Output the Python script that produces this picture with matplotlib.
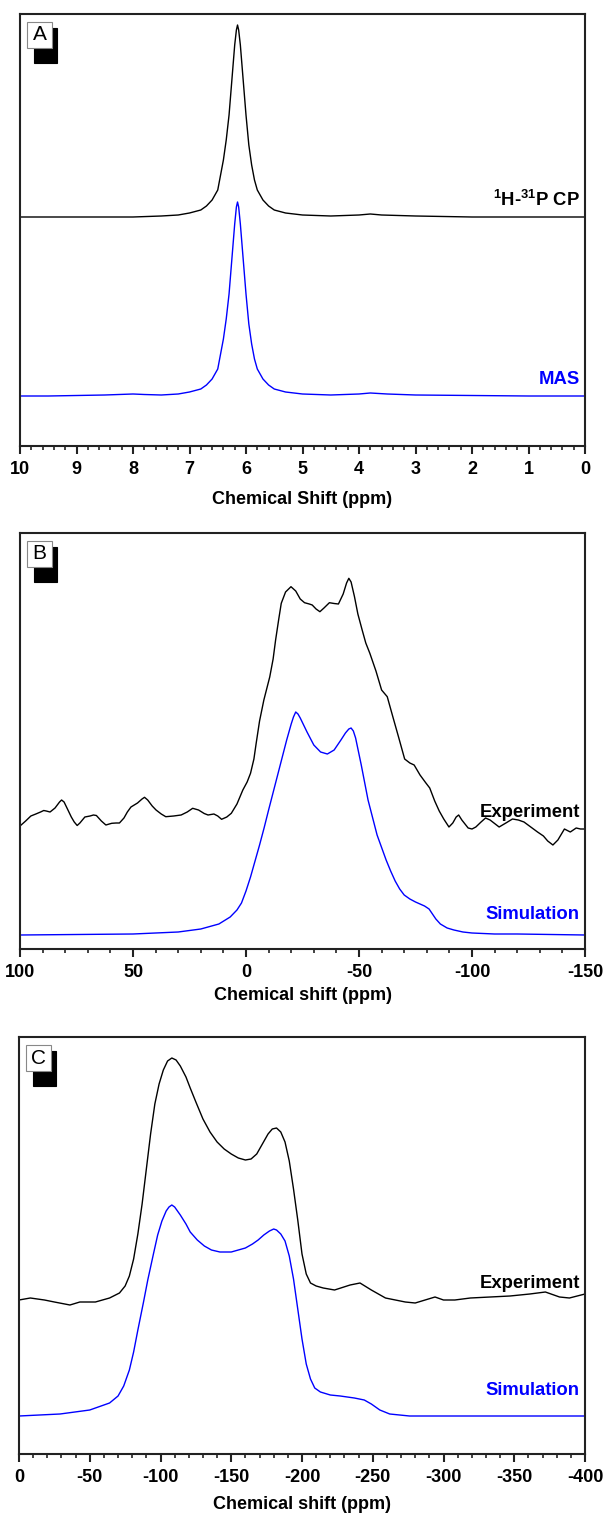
import matplotlib
matplotlib.use('Agg')
import matplotlib.pyplot as plt
from matplotlib.patches import Rectangle
from matplotlib.ticker import MultipleLocator

plt.rcParams['font.family'] = ['Liberation Sans', 'DejaVu Sans']
plt.rcParams['mathtext.fontset'] = 'custom'
plt.rcParams['mathtext.rm'] = 'Liberation Sans'
plt.rcParams['mathtext.bf'] = 'Liberation Sans:bold'
plt.rcParams['mathtext.default'] = 'bf'
plt.rcParams['axes.unicode_minus'] = False

# panel A: 1H-31P CP and MAS (ppm, intensity)
a_cp_ppm = [10, 8, 7.5, 7.2, 7.0, 6.8, 6.7, 6.6, 6.5, 6.45, 6.4, 6.35, 6.3, 6.25, 6.2, 6.17,
            6.15, 6.13, 6.1, 6.05, 6.0, 5.95, 5.9, 5.85, 5.8, 5.7, 5.6, 5.5, 5.3, 5.0, 4.5,
            4.0, 3.8, 3.6, 3.0, 2.0, 0]
a_cp_int = [229, 229, 230, 231, 233, 236, 240, 246, 256, 271, 286, 306, 331, 366, 401, 416,
            421, 416, 401, 366, 331, 301, 281, 266, 256, 246, 240, 236, 233, 231, 230,
            231, 232, 231, 230, 229, 229]
a_mas_ppm = [10, 9.5, 9.0, 8.5, 8.0, 7.8, 7.5, 7.2, 7.0, 6.8, 6.7, 6.6, 6.5, 6.45, 6.4, 6.35,
             6.3, 6.25, 6.2, 6.17, 6.15, 6.13, 6.1, 6.05, 6.0, 5.95, 5.9, 5.85, 5.8, 5.7,
             5.6, 5.5, 5.3, 5.0, 4.5, 4.0, 3.8, 3.5, 3.0, 2.0, 1.0, 0]
a_mas_int = [50, 50, 50.5, 51, 52, 51.5, 51, 52, 54, 57, 61, 67, 77, 92, 107, 127,
             152, 187, 222, 239, 244, 239, 222, 187, 152, 122, 102, 87, 77, 67,
             61, 57, 54, 52, 51, 52, 53, 52, 51, 50.5, 50, 50]

# panel B: experiment and simulation
b_exp_ppm = [100, 97.5, 95.2, 93, 90.9, 89.5, 88.4, 86.7, 84.5, 82.5, 81.6, 80.5, 79, 77.3,
             76, 74.7, 73.5, 71.3, 69, 67.5, 66.2, 64, 62, 60.5, 59.4, 57.5, 56, 54, 52.5,
             50.9, 48, 46, 44.9, 43.5, 41.5, 39.8, 37.5, 35.5, 32, 28.7, 26, 23.6, 21, 18.5,
             16.8, 14.2, 12.5, 10.8, 8.5, 6.5, 4, 1.4, -0.5, -2, -3.5, -4.5, -6, -7.9,
             -10.5, -12, -13.1, -14.5, -15.6, -17.5, -19.9, -22, -24, -25.9, -28, -29.3,
             -31, -32.7, -34.5, -36.9, -39, -40.9, -43, -44.5, -45.5, -46.5, -48, -49.5,
             -51.4, -53, -54.8, -57.5, -60, -62.5, -65, -67.5, -70.2, -72.5, -74.4, -77,
             -79.6, -81.3, -83.5, -85.5, -87.5, -89.8, -91.5, -93, -94.1, -95.5, -98.3,
             -100, -101.7, -104, -106, -108, -112, -115, -117.9, -120.5, -123, -126, -129,
             -131.6, -133.5, -135.8, -138, -140.9, -143.5, -146.1, -148, -150]
b_exp_int = [123, 128, 133, 135, 137, 138.5, 138, 137, 141, 147, 149, 147, 140, 132,
             127, 123.5, 126, 132, 133, 134, 133.5, 128, 124, 125, 125.7, 126, 126, 131, 137,
             142, 146, 150, 151.7, 149, 143, 139, 135, 132.3, 133, 134, 137, 140.7, 139, 135.5,
             134, 135, 133, 129.7, 132, 135.7, 145, 159, 167, 175.7, 190, 205.7, 228, 249,
             272, 290, 309, 330, 345.7, 357, 362.3, 358, 350, 346.3, 345, 344,
             340, 337.3, 341, 346.3, 345.5, 345, 355, 366, 370.7, 367, 352.3, 335,
             319, 306, 295.7, 278, 259, 252.3, 232, 212, 190, 186, 184, 174,
             166, 161, 148, 138, 130, 122, 126, 132, 134, 129, 121,
             120, 122, 127, 131, 129, 122, 126, 130, 129, 127, 122, 117,
             113, 108, 104, 109, 120, 117, 121, 120, 120]
b_sim_ppm = [100, 50, 30, 20, 12, 7, 4, 2, 0, -2, -4, -6, -8, -10, -14, -18, -20, -21, -22,
             -23, -24, -27, -30, -33, -36, -39, -42, -44, -45.5, -46.5, -47.5, -48.5, -51,
             -54, -58, -62, -64, -66, -68, -70, -72.5, -75, -79, -81, -82.5, -84, -86, -89,
             -92, -96, -100, -110, -120, -150]
b_sim_int = [14, 15, 17, 20, 25, 32, 39, 46, 58, 72, 88, 104, 121, 139, 174, 209, 225, 232,
             237, 235, 231, 217, 204, 197, 195, 199, 209, 216, 220, 221, 218, 211, 184,
             149, 114, 89, 78, 68, 60, 54, 50, 47, 43, 40, 35, 30, 25, 21,
             19, 17, 16, 15, 15, 14]

# panel C: experiment and simulation
c_exp_ppm = [0, -8, -18, -25, -36, -43, -54, -64, -71, -75, -78, -81, -84, -87, -90, -93,
             -96, -99, -102, -105, -108, -111, -114, -118, -121, -125, -130, -135, -140,
             -145, -150, -155, -160, -164, -168, -172, -176, -179, -182, -185, -188, -191,
             -194, -197, -200, -203, -206, -210, -215, -223, -234, -241, -249, -259, -266,
             -273, -280, -287, -294, -300, -308, -319, -333, -347, -361, -372, -382, -389,
             -400]
c_exp_int = [154, 156, 154, 152, 149, 152, 152, 156, 161, 168, 178, 195, 220, 250, 285, 320,
             350, 370, 384, 393, 396, 394, 388, 377, 366, 352, 335, 322, 312,
             305, 300, 296, 294, 295, 300, 310, 320, 325, 326, 322, 312, 293,
             265, 234, 200, 180, 171, 168, 166, 164, 169, 171, 164, 156, 154,
             152, 151, 154, 157, 154, 154, 156, 157, 158, 160, 162, 157, 156,
             160]
c_sim_ppm = [0, -29, -50, -64, -70, -74, -78, -81, -84, -88, -91, -95, -98, -101, -104, -106,
             -108, -110, -114, -118, -121, -126, -131, -136, -142, -150, -155, -160, -165,
             -169, -173, -177, -180, -182, -185, -188, -191, -194, -197, -200, -203, -206,
             -209, -213, -220, -227, -237, -244, -249, -255, -262, -276, -400]
c_sim_int = [38, 40, 44, 51, 58, 68, 84, 102, 124, 152, 174, 200, 219, 233, 243, 247,
             249, 247, 239, 230, 222, 214, 208, 204, 202, 202, 204, 206, 210,
             214, 219, 223, 225, 224, 220, 213, 198, 175, 145, 115, 90, 75,
             66, 62, 59, 58, 56, 54, 50, 44, 40, 38, 38]

BLUE = '#0000ff'
SPINE = '#222222'

fig = plt.figure(figsize=(6.06, 15.19), dpi=100)
W, H = 606, 1519
# axes boxes in pixels: (left, top, right, bottom)
boxes = [(20, 14, 585, 446), (20, 533, 585, 949), (19, 1037, 585, 1454)]
axs = []
for l, t, r, b in boxes:
    ax = fig.add_axes([l / W, 1 - b / H, (r - l) / W, (b - t) / H])
    ax.set_ylim(0, b - t)
    axs.append(ax)


def style(ax, lo, hi, major, minor, xlabel, label_y):
    ax.set_xlim(lo, hi)
    ax.xaxis.set_major_locator(MultipleLocator(major))
    ax.xaxis.set_minor_locator(MultipleLocator(minor))
    ax.set_yticks([])
    for s in ax.spines.values():
        s.set_linewidth(1.5)
        s.set_color(SPINE)
    ax.tick_params(axis='x', which='major', direction='out', length=6, width=1.5,
                   color=SPINE, pad=4.5)
    ax.tick_params(axis='x', which='minor', direction='out', length=3, width=1.2,
                   color=SPINE)
    for lab in ax.get_xticklabels():
        lab.set_fontweight('bold')
        lab.set_fontsize(13)
    ax.set_xlabel(xlabel, fontsize=13, fontweight='bold', va='top')
    ax.xaxis.set_label_coords(0.5, label_y)


def tag(ax, letter):
    bb = ax.get_position()
    wpx, hpx = bb.width * W, bb.height * H
    # shadow then white box, pixel offsets from the axes top-left corner
    for (x0, y0, w, h, fc, ec) in [(14, 14, 23, 35, 'black', 'black'),
                                   (7, 8, 25, 26, 'white', '#888888')]:
        ax.add_patch(Rectangle((x0 / wpx, 1 - (y0 + h) / hpx), w / wpx, h / hpx,
                               transform=ax.transAxes, facecolor=fc, edgecolor=ec,
                               linewidth=0.8, clip_on=False, zorder=5))
    ax.text((7 + 12.5) / wpx, 1 - (8 + 13) / hpx, letter, transform=ax.transAxes,
            ha='center', va='center', fontsize=15, zorder=6)


def note(ax, y, text, color='black'):
    ax.text(0.991, y, text, transform=ax.transAxes, ha='right', va='center',
            fontsize=13.3, fontweight='bold', color=color)


ax = axs[0]
ax.plot(a_cp_ppm, a_cp_int, color='black', lw=1.0)
ax.plot(a_mas_ppm, a_mas_int, color=BLUE, lw=1.0)
style(ax, 10, 0, 1, 0.2, 'Chemical Shift (ppm)', -0.104)
note(ax, 0.569, r'$^{1}$H-$^{31}$P CP')
note(ax, 0.153, 'MAS', BLUE)
tag(ax, 'A')

ax = axs[1]
ax.plot(b_exp_ppm, b_exp_int, color='black', lw=1.0)
ax.plot(b_sim_ppm, b_sim_int, color=BLUE, lw=1.0)
style(ax, 100, -150, 50, 10, 'Chemical shift (ppm)', -0.092)
note(ax, 0.329, 'Experiment')
note(ax, 0.082, 'Simulation', BLUE)
tag(ax, 'B')

ax = axs[2]
ax.plot(c_exp_ppm, c_exp_int, color='black', lw=1.0)
ax.plot(c_sim_ppm, c_sim_int, color=BLUE, lw=1.0)
style(ax, 0, -400, 50, 10, 'Chemical shift (ppm)', -0.101)
note(ax, 0.41, 'Experiment')
note(ax, 0.153, 'Simulation', BLUE)
tag(ax, 'C')

fig.savefig('out.png', dpi=100)
